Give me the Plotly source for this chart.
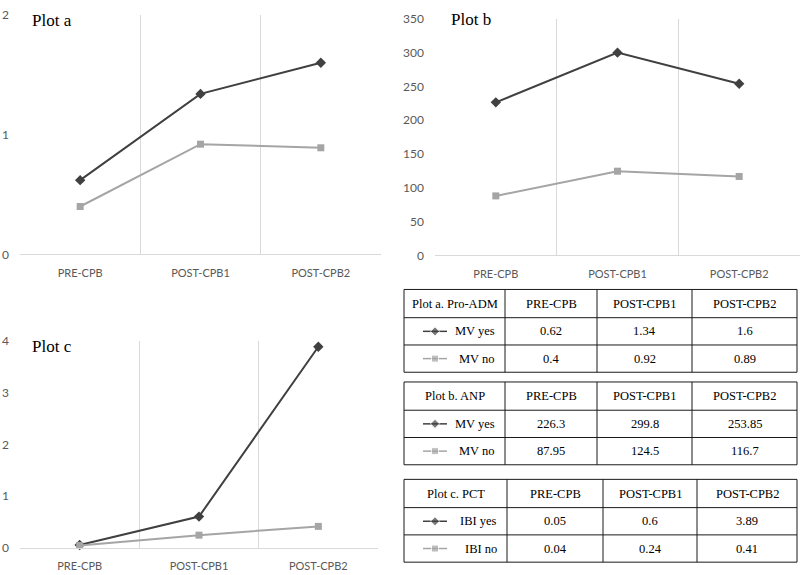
import plotly.graph_objects as go

W, H = 800, 575

phases = ["PRE-CPB", "POST-CPB1", "POST-CPB2"]

adm_mv_yes = [0.62, 1.34, 1.6]
adm_mv_no = [0.4, 0.92, 0.89]

anp_mv_yes = [226.3, 299.8, 253.85]
anp_mv_no = [87.95, 124.5, 116.7]

pct_ibi_yes = [0.05, 0.6, 3.89]
pct_ibi_no = [0.04, 0.24, 0.41]

dark = "#404040"
light = "#a5a5a5"
grid = "#d9d9d9"
serif = "Liberation Serif, Times New Roman, serif"
sans = "Lato, Open Sans, sans-serif"


def px_x(a, b):
    return [a / W, b / W]


def px_y(top, bottom):
    return [1 - bottom / H, 1 - top / H]


fig = go.Figure()

panels = [
    ("x", "y", adm_mv_yes, adm_mv_no),
    ("x2", "y2", anp_mv_yes, anp_mv_no),
    ("x3", "y3", pct_ibi_yes, pct_ibi_no),
]
for xa, ya, yes_vals, no_vals in panels:
    fig.add_trace(go.Scatter(
        x=phases, y=yes_vals, xaxis=xa, yaxis=ya, mode="lines+markers",
        line=dict(color=dark, width=2),
        marker=dict(symbol="diamond", size=8, color=dark),
        showlegend=False, cliponaxis=False,
    ))
    fig.add_trace(go.Scatter(
        x=phases, y=no_vals, xaxis=xa, yaxis=ya, mode="lines+markers",
        line=dict(color=light, width=2),
        marker=dict(symbol="square", size=7, color=light),
        showlegend=False, cliponaxis=False,
    ))

xcommon = dict(
    type="category", categoryorder="array", categoryarray=phases,
    range=[-0.5, 2.5], tickson="boundaries", showgrid=True, gridcolor=grid,
    gridwidth=1, showline=True, linecolor=grid, linewidth=1, ticks="",
    tickfont=dict(family=sans, size=11, color="#595959"),
    ticklabelstandoff=8, zeroline=False, fixedrange=True,
)
ycommon = dict(
    showgrid=False, zeroline=False, showline=False, ticks="",
    tickfont=dict(family=sans, size=12, color="#595959"),
    ticklabelstandoff=10, fixedrange=True,
)

fig.update_layout(
    width=W, height=H,
    margin=dict(l=0, r=0, t=0, b=0),
    paper_bgcolor="white", plot_bgcolor="rgba(0,0,0,0)",
    xaxis=dict(xcommon, domain=px_x(20, 381), anchor="y"),
    yaxis=dict(ycommon, domain=px_y(7, 253), range=[0, 2], dtick=1, anchor="x"),
    xaxis2=dict(xcommon, domain=px_x(435, 800), anchor="y2"),
    yaxis2=dict(ycommon, domain=px_y(11, 254), range=[0, 350], dtick=50, anchor="x2"),
    xaxis3=dict(xcommon, domain=px_x(20, 378), anchor="y3"),
    yaxis3=dict(ycommon, domain=px_y(342, 554), range=[0, 4], dtick=1, anchor="x3"),
    # overlay axis in page pixels, used to lay out the summary tables
    xaxis4=dict(domain=[0, 1], range=[0, W], visible=False, fixedrange=True),
    yaxis4=dict(domain=[0, 1], range=[H, 0], visible=False, fixedrange=True, anchor="x4"),
)

for label, x0, yc in [("Plot a", 30, 13), ("Plot b", 449, 12), ("Plot c", 30, 348)]:
    fig.add_annotation(
        text=label, xref="paper", yref="paper", x=x0 / W, y=1 - yc / H,
        xanchor="left", yanchor="middle", showarrow=False,
        font=dict(family=serif, size=17, color="black"),
    )

# tables: title, row labels, values, top edge, column edges (page pixels)
tables = [
    ("Plot a. Pro-ADM", "MV yes", "MV no", adm_mv_yes, adm_mv_no, 289, [404, 505, 597, 692, 797]),
    ("Plot b. ANP", "MV yes", "MV no", anp_mv_yes, anp_mv_no, 384, [404, 505, 597, 692, 797]),
    ("Plot c. PCT", "IBI yes", "IBI no", pct_ibi_yes, pct_ibi_no, 484, [404, 507, 603, 697, 797]),
]
row_h = [29, 28, 28]
border = dict(color="#1a1a1a", width=1)
tfont = dict(family=serif, size=12.5, color="black")

for title, yes_lab, no_lab, yes_vals, no_vals, top, edges in tables:
    rows = [top]
    for h in row_h:
        rows.append(rows[-1] + h)
    left, right = edges[0], edges[-1]
    for r in rows:
        fig.add_shape(type="line", xref="x4", yref="y4", x0=left, x1=right, y0=r, y1=r, line=border)
    for c in edges:
        fig.add_shape(type="line", xref="x4", yref="y4", x0=c, x1=c, y0=rows[0], y1=rows[-1], line=border)

    grid_text = [
        [title] + phases,
        [yes_lab] + [f"{v:g}" for v in yes_vals],
        [no_lab] + [f"{v:g}" for v in no_vals],
    ]
    for ri, row in enumerate(grid_text):
        yc = (rows[ri] + rows[ri + 1]) / 2
        for ci, txt in enumerate(row):
            if ci == 0 and ri > 0:
                x, anchor = edges[1] - 8, "right"
            else:
                x, anchor = (edges[ci] + edges[ci + 1]) / 2, "center"
            fig.add_annotation(
                text=txt, xref="x4", yref="y4", x=x, y=yc, xanchor=anchor,
                yanchor="middle", showarrow=False, font=tfont,
            )

    # legend glyphs in the first column
    for ri, color, symbol, size in [(1, dark, "diamond", 7), (2, light, "square", 7)]:
        yc = (rows[ri] + rows[ri + 1]) / 2
        gx = left + 31
        fig.add_trace(go.Scatter(
            x=[gx - 12, gx, gx + 12], y=[yc, yc, yc], xaxis="x4", yaxis="y4",
            mode="lines+markers", line=dict(color=color, width=1.5),
            marker=dict(symbol=symbol, size=[0, size, 0], color=color),
            showlegend=False, hoverinfo="skip", cliponaxis=False,
        ))

fig.write_html(
    "out.html",
    config={"displayModeBar": False},
    post_script="document.body.style.margin='0px';",
)
